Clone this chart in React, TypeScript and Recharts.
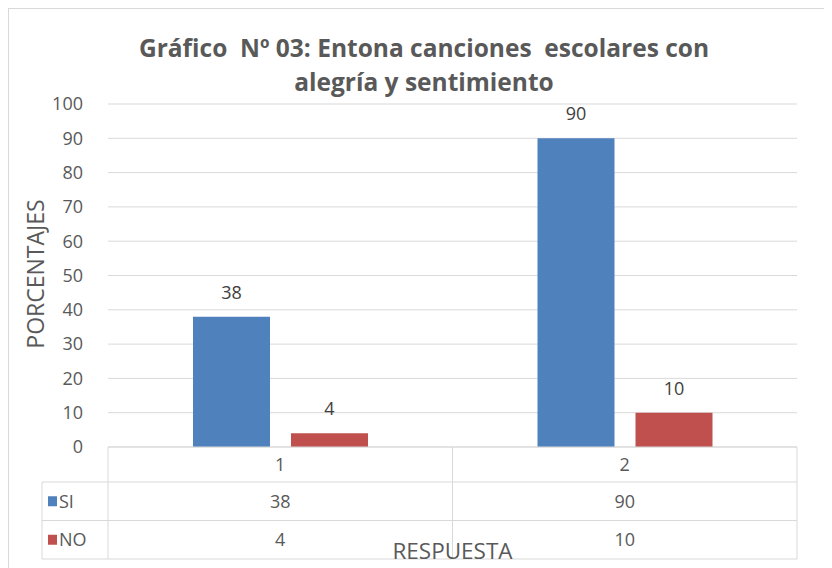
import { BarChart, Bar, XAxis, YAxis, CartesianGrid, LabelList } from 'recharts'

const categories = ['1', '2']
const siValues = [38, 90]
const noValues = [4, 10]
const yTicks = [0, 10, 20, 30, 40, 50, 60, 70, 80, 90, 100]

const series = [
  { key: 'SI', name: 'SI', values: siValues, color: '#4F81BD' },
  { key: 'NO', name: 'NO', values: noValues, color: '#C0504D' },
]

const data = categories.map((c, i) => ({ cat: c, SI: siValues[i], NO: noValues[i] }))

const FONT = '"Open Sans", Lato, sans-serif'
const TEXT = '#595959'
const LINE = '#D9D9D9'

const W = 823
const H = 559
const M = { top: 95, right: 35, left: 0, bottom: 9 }
const YW = 99
const TABLE_H = 112
const ROWS = [35, 38.5, 38.5]
const LEGEND_X = 33
const PLOT_L = M.left + YW
const PLOT_R = W - M.right
const COL_W = (PLOT_R - PLOT_L) / categories.length

function TableTick(props: any) {
  const { x, y, payload } = props
  const i = payload.index
  const right = x + COL_W / 2
  const r1 = y + ROWS[0]
  const r2 = r1 + ROWS[1]
  const r3 = r2 + ROWS[2]
  return (
    <g fontFamily={FONT} fontSize={18} fill={TEXT}>
      {i === 0 && (
        <g>
          <line x1={PLOT_L} x2={PLOT_R} y1={y} y2={y} stroke={LINE} />
          <line x1={LEGEND_X} x2={PLOT_R} y1={r1} y2={r1} stroke={LINE} />
          <line x1={LEGEND_X} x2={PLOT_R} y1={r2} y2={r2} stroke={LINE} />
          <line x1={LEGEND_X} x2={PLOT_R} y1={r3} y2={r3} stroke={LINE} />
          <line x1={LEGEND_X} x2={LEGEND_X} y1={r1} y2={r3} stroke={LINE} />
          <line x1={PLOT_L} x2={PLOT_L} y1={y} y2={r3} stroke={LINE} />
          {series.map((s, k) => {
            const cy = y + ROWS[0] + ROWS[1] * k + ROWS[1] / 2
            return (
              <g key={s.key}>
                <rect x={LEGEND_X + 6} y={cy - 5} width={9} height={10} fill={s.color} />
                <text x={LEGEND_X + 17} y={cy} dy="0.355em" textAnchor="start" fill={TEXT}>
                  {s.name}
                </text>
              </g>
            )
          })}
        </g>
      )}
      <line x1={right} x2={right} y1={y} y2={r3} stroke={LINE} />
      <text x={x} y={y + ROWS[0] / 2} dy="0.355em" textAnchor="middle" fill={TEXT}>
        {payload.value}
      </text>
      {series.map((s, k) => (
        <text
          key={s.key}
          x={x}
          y={r1 + ROWS[1] * k + ROWS[1] / 2}
          dy="0.355em"
          textAnchor="middle"
          fill={TEXT}
        >
          {s.values[i]}
        </text>
      ))}
    </g>
  )
}

export default function App() {
  return (
    <div
      style={{
        position: 'relative',
        width: 824,
        height: 560,
        borderLeft: '1px solid #D9D9D9',
        borderTop: '1px solid #D9D9D9',
        overflow: 'hidden',
        background: '#fff',
      }}
    >
      <div
        style={{
          position: 'absolute',
          left: 0,
          top: 22,
          width: 830,
          textAlign: 'center',
          fontFamily: FONT,
          fontWeight: 'bold',
          fontSize: 24.5,
          lineHeight: '34px',
          color: TEXT,
        }}
      >
        Gráfico&nbsp; Nº 03: Entona canciones&nbsp; escolares con
        <br />
        alegría y sentimiento
      </div>
      <BarChart width={W} height={H} data={data} margin={M} barSize={77} barGap={21}>
        <CartesianGrid vertical={false} stroke={LINE} />
        <XAxis
          dataKey="cat"
          height={TABLE_H}
          axisLine={false}
          tickLine={false}
          tickSize={0}
          tickMargin={0}
          interval={0}
          tick={<TableTick />}
          label={{
            value: 'RESPUESTA',
            position: 'insideBottom',
            offset: 0,
            fill: TEXT,
            fontSize: 22.5,
            fontFamily: FONT,
          }}
        />
        <YAxis
          width={YW}
          domain={[0, 100]}
          ticks={yTicks}
          axisLine={false}
          tickLine={false}
          tickSize={0}
          tickMargin={25}
          tick={{ fontSize: 18, fill: TEXT, fontFamily: FONT }}
          label={{
            content: () => (
              <text
                x={26}
                y={265}
                transform="rotate(-90 26 265)"
                textAnchor="middle"
                dominantBaseline="central"
                fontSize={23}
                fontFamily={FONT}
                fill={TEXT}
              >
                PORCENTAJES
              </text>
            ),
          }}
        />
        {series.map((s) => (
          <Bar key={s.key} dataKey={s.key} fill={s.color} isAnimationActive={false}>
            <LabelList
              dataKey={s.key}
              position="top"
              offset={18}
              fill="#404040"
              fontSize={18}
              fontFamily={FONT}
            />
          </Bar>
        ))}
      </BarChart>
    </div>
  )
}
